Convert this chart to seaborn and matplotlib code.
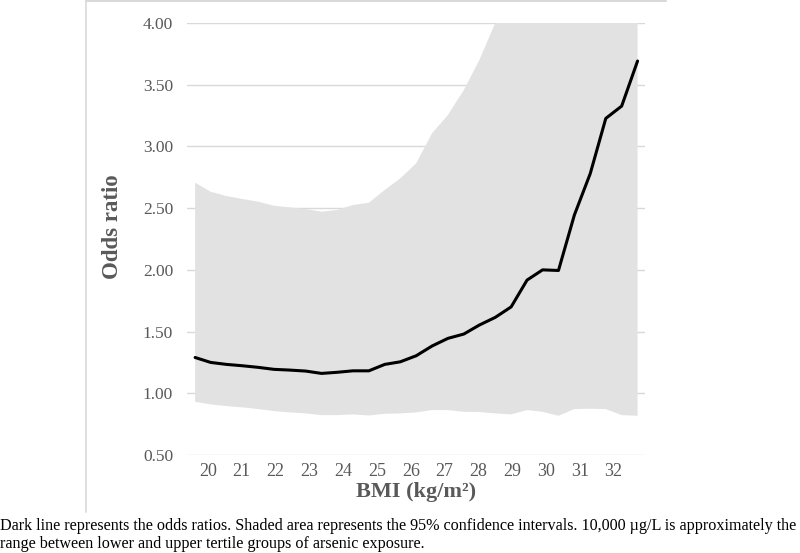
import matplotlib
matplotlib.use("Agg")
import matplotlib.pyplot as plt
from matplotlib.lines import Line2D
import seaborn as sns
import pandas as pd

# ---- data ----
bmi = [19.62, 20.08, 20.55, 21.02, 21.49, 21.95, 22.42, 22.89, 23.36, 23.82,
       24.29, 24.76, 25.23, 25.69, 26.16, 26.63, 27.10, 27.57, 28.03, 28.50,
       28.97, 29.44, 29.90, 30.37, 30.84, 31.31, 31.77, 32.24, 32.71]
odds_ratio = [1.29, 1.25, 1.234, 1.223, 1.21, 1.194, 1.188, 1.18, 1.161, 1.17,
              1.182, 1.182, 1.234, 1.255, 1.304, 1.383, 1.445, 1.48, 1.553, 1.615,
              1.70, 1.917, 2.0, 1.995, 2.444, 2.78, 3.227, 3.327, 3.692]
ci_lower = [0.931, 0.910, 0.896, 0.886, 0.872, 0.856, 0.845, 0.837, 0.823, 0.823,
            0.829, 0.820, 0.834, 0.837, 0.845, 0.864, 0.864, 0.850, 0.848, 0.837,
            0.829, 0.864, 0.850, 0.818, 0.872, 0.875, 0.872, 0.823, 0.818]
ci_upper = [2.706, 2.633, 2.598, 2.574, 2.552, 2.52, 2.506, 2.493, 2.471, 2.485,
            2.525, 2.544, 2.647, 2.741, 2.863, 3.106, 3.255, 3.457, 3.70, 4.0,
            4.4, 4.9, 5.4, 5.9, 6.5, 7.2, 8.0, 8.9, 9.8]
x_ticks = [20, 21, 22, 23, 24, 25, 26, 27, 28, 29, 30, 31, 32]
y_ticks = [0.50, 1.00, 1.50, 2.00, 2.50, 3.00, 3.50, 4.00]

df = pd.DataFrame({"BMI": bmi, "OR": odds_ratio, "lo": ci_lower, "hi": ci_upper})

sns.set_theme(style="white")
plt.rcParams["font.family"] = ["Liberation Serif", "DejaVu Serif"]

W, H = 800, 553
fig = plt.figure(figsize=(W / 100, H / 100), dpi=100)
ax = fig.add_axes([187 / W, 1 - 455 / H, (645 - 187) / W, (455 - 23) / H])

grid_c = "#d9d9d9"
text_c = "#595959"

ax.fill_between(df["BMI"], df["lo"], df["hi"], color="#e2e2e2", linewidth=0, zorder=1)
sns.lineplot(data=df, x="BMI", y="OR", ax=ax, color="black", linewidth=2.2, zorder=3)

ax.set_xlim(19.38, 32.93)
ax.set_ylim(0.5, 4.0)
ax.set_yticks(y_ticks)
ax.set_yticklabels([f"{v:.2f}" for v in y_ticks])
ax.set_xticks(x_ticks)
ax.set_xticklabels([str(v) for v in x_ticks])
for y in y_ticks:
    ax.axhline(y, color=grid_c, linewidth=1.0, zorder=0.5)

for s in ax.spines.values():
    s.set_visible(False)
ax.tick_params(axis="both", length=0, colors=text_c)
ax.tick_params(axis="y", pad=10, labelsize=12.5)
ax.tick_params(axis="x", pad=6, labelsize=13)

ax.set_ylabel("Odds ratio", fontsize=16.5, fontweight="bold", color=text_c, labelpad=14)
ax.yaxis.label.set_y(0.528)
ax.set_xlabel("BMI (kg/m\u00b2)", fontsize=16, fontweight="bold", color=text_c, labelpad=1)

# frame of the chart region
fig.add_artist(Line2D([86 / W, 86 / W], [1 - 512 / H, 1.0], color=grid_c, linewidth=1.2,
                      transform=fig.transFigure))
fig.add_artist(Line2D([86 / W, 666 / W], [1 - 1 / H, 1 - 1 / H], color=grid_c, linewidth=1.5,
                      transform=fig.transFigure))

cap1 = ("Dark line represents the odds ratios. Shaded area represents the 95% confidence "
        "intervals. 10,000 \u00b5g/L is approximately the")
cap2 = "range between lower and upper tertile groups of arsenic exposure."
fig.text(0.0, 1 - 526 / H, cap1, fontsize=11.6, color="black", va="center", ha="left")
fig.text(0.0, 1 - 544 / H, cap2, fontsize=11.6, color="black", va="center", ha="left")

fig.savefig("out.png", dpi=100)
